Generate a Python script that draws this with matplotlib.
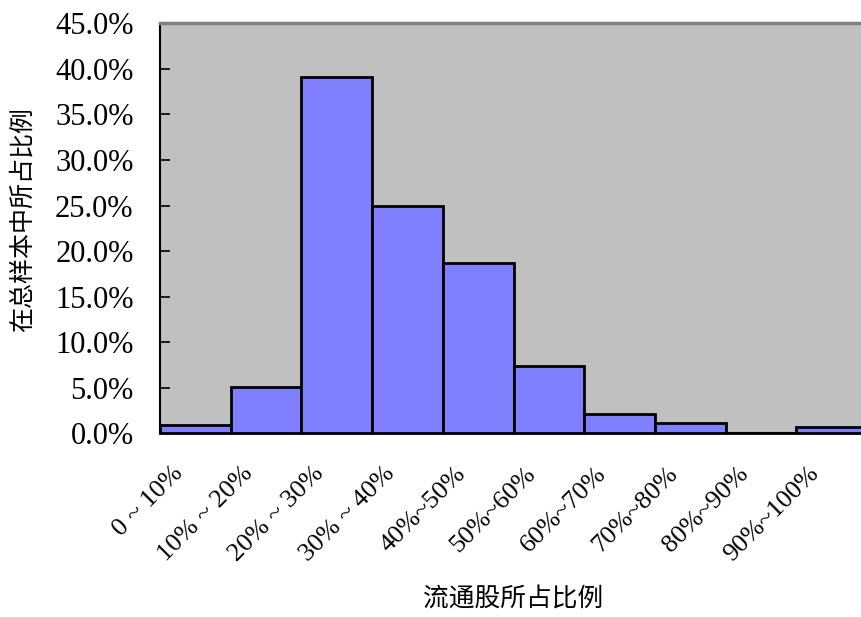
import matplotlib
matplotlib.use("Agg")
import matplotlib.pyplot as plt
import matplotlib.transforms as mtransforms
from matplotlib.ticker import FuncFormatter

categories = ["0 ~ 10%", "10% ~ 20%", "20% ~ 30%", "30% ~ 40%", "40%~50%",
              "50%~60%", "60%~70%", "70%~80%", "80%~90%", "90%~100%"]
shares = [0.9, 5.1, 39.1, 24.9, 18.7, 7.4, 2.1, 1.1, 0.0, 0.7]
y_ticks = [0, 5, 10, 15, 20, 25, 30, 35, 40, 45]
x_title = "流通股所占比例"
y_title = "在总样本中所占比例"

plt.rcParams['font.family'] = ['Liberation Serif', 'Noto Sans CJK SC', 'DejaVu Sans']

fig = plt.figure(figsize=(8.61, 6.17), dpi=100)
ax = fig.add_axes([160/861, (617-433.3)/617, 707/861, 410/617])
ax.set_facecolor('#C0C0C0')

x = list(range(len(categories)))
ax.bar(x, shares, width=1.0, color='#8080FF', edgecolor='black', linewidth=2.0,
       zorder=3, clip_on=False)

ax.set_xlim(-0.5, len(categories) - 0.5)
ax.set_ylim(0, 45)
ax.set_yticks(y_ticks)
ax.yaxis.set_major_formatter(FuncFormatter(lambda v, p: f"{v:.1f}%"))
ax.tick_params(axis='y', direction='in', length=7, width=1.2, labelsize=22, pad=19,
               colors='black')
ax.set_xticks(x)
ax.set_xticklabels(categories, rotation=45, ha='right', va='top',
                   rotation_mode='anchor', fontsize=19)
ax.tick_params(axis='x', length=0, pad=21)
offset = mtransforms.ScaledTranslation(-24/100, 0, fig.dpi_scale_trans)
for lbl in ax.get_xticklabels():
    lbl.set_transform(lbl.get_transform() + offset)

for s in ['left', 'bottom']:
    ax.spines[s].set_color('black')
    ax.spines[s].set_linewidth(1.5)
ax.spines['top'].set_color('#808080')
ax.spines['top'].set_linewidth(2.5)
ax.spines['right'].set_visible(False)

fig.text(513/861, 1 - 600/617, x_title, ha='center', va='center', fontsize=18.5,
         family=['Noto Sans CJK SC', 'DejaVu Sans'])
fig.text(23/861, 1 - 219/617, y_title, ha='center', va='center', fontsize=18,
         rotation=90, family=['Noto Sans CJK SC', 'DejaVu Sans'])

fig.savefig("out.png", dpi=100)
